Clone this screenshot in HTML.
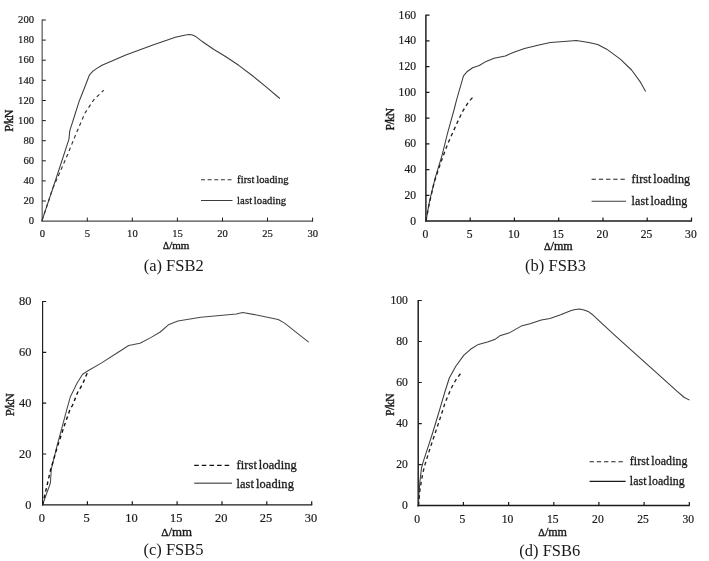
<!DOCTYPE html>
<html lang="en"><head><meta charset="utf-8"><title>Load-deflection curves</title>
<style>html,body{margin:0;padding:0;background:#fff}svg{display:block}text{font-family:'Liberation Serif', serif;fill:#1a1a1a;stroke:#1a1a1a;stroke-width:0.3px}.t text{stroke-width:0.2px}.cap{stroke:none}.b{stroke-width:0.38px}</style></head><body>
<svg width="709" height="561" viewBox="0 0 709 561">
<rect width="709" height="561" fill="#fff"/>
<g id="chart-a">
<line x1="42.2" y1="19.5" x2="42.2" y2="221.8" stroke="#787878" stroke-width="1.5"/>
<line x1="41.5" y1="221.2" x2="313.1" y2="221.2" stroke="#4a4a4a" stroke-width="1.3"/>
<path d="M42.2,201.0h3.6M42.2,180.9h3.6M42.2,160.8h3.6M42.2,140.7h3.6M42.2,120.6h3.6M42.2,100.5h3.6M42.2,80.3h3.6M42.2,60.2h3.6M42.2,40.1h3.6M42.2,20.0h3.6M87.3,221.2v-3.6M132.3,221.2v-3.6M177.4,221.2v-3.6M222.5,221.2v-3.6M267.5,221.2v-3.6M312.6,221.2v-3.6" fill="none" stroke="#1a1a1a" stroke-width="1.0"/>
<g class="t">
<text x="34.0" y="224.3" font-size="10.6" text-anchor="end">0</text>
<text x="34.0" y="204.2" font-size="10.6" text-anchor="end">20</text>
<text x="34.0" y="184.1" font-size="10.6" text-anchor="end">40</text>
<text x="34.0" y="164.0" font-size="10.6" text-anchor="end">60</text>
<text x="34.0" y="143.9" font-size="10.6" text-anchor="end">80</text>
<text x="34.0" y="123.8" font-size="10.6" text-anchor="end">100</text>
<text x="34.0" y="103.6" font-size="10.6" text-anchor="end">120</text>
<text x="34.0" y="83.5" font-size="10.6" text-anchor="end">140</text>
<text x="34.0" y="63.4" font-size="10.6" text-anchor="end">160</text>
<text x="34.0" y="43.3" font-size="10.6" text-anchor="end">180</text>
<text x="34.0" y="23.2" font-size="10.6" text-anchor="end">200</text>
<text x="42.3" y="236.8" font-size="10.6" text-anchor="middle">0</text>
<text x="87.4" y="236.8" font-size="10.6" text-anchor="middle">5</text>
<text x="132.4" y="236.8" font-size="10.6" text-anchor="middle">10</text>
<text x="177.5" y="236.8" font-size="10.6" text-anchor="middle">15</text>
<text x="222.6" y="236.8" font-size="10.6" text-anchor="middle">20</text>
<text x="267.6" y="236.8" font-size="10.6" text-anchor="middle">25</text>
<text x="312.7" y="236.8" font-size="10.6" text-anchor="middle">30</text>
</g>
<text class="b" x="176.2" y="248.9" font-size="11.02" text-anchor="middle"><tspan font-size="9.5">Δ</tspan>/mm</text>
<text class="b" transform="translate(12.6,120.7) rotate(-90)" font-size="12.0" text-anchor="middle">P<tspan dx="-0.84">/</tspan><tspan dx="-0.84">k</tspan><tspan dx="-0.70">N</tspan></text>
<text x="173.7" y="270.9" class="cap" font-size="16.5" text-anchor="middle" fill="#111">(a) FSB2</text>
<polyline points="42.0,220.6 55.6,180.0 68.9,139.4 69.8,130.6 74.5,116.0 79.2,101.2 85.0,86.5 89.3,75.2 93.0,71.2 96.8,68.4 102.0,65.3 125.8,55.1 152.9,45.0 175.4,37.3 181.0,35.9 185.5,35.0 189.5,34.6 192.5,35.0 195.2,36.2 198.5,38.6 202.6,41.8 213.9,49.5 225.1,56.3 238.7,65.3 252.2,75.5 265.8,86.7 279.8,98.5" fill="none" stroke="#3c3c3c" stroke-width="1.05" stroke-linejoin="round"/>
<polyline points="42.0,220.6 52.7,188.5 60.0,172.0 67.4,155.0 76.2,133.5 85.0,113.0 93.9,99.7 103.8,90.1" fill="none" stroke="#333" stroke-width="1.15" stroke-dasharray="3.6,3.2"/>
<line x1="201" y1="179.7" x2="231.5" y2="179.7" stroke="#333" stroke-width="1.05" stroke-dasharray="3.97,2.67"/>
<line x1="201" y1="200.5" x2="232.5" y2="200.5" stroke="#3c3c3c" stroke-width="1.05"/>
<text x="237" y="182.6" font-size="10.6" word-spacing="-1.3" letter-spacing="0.12">first loading</text>
<text x="237" y="203.8" font-size="10.6" word-spacing="-1.3" letter-spacing="0.12">last loading</text>
</g>
<g id="chart-b">
<line x1="425.9" y1="14.7" x2="425.9" y2="221.8" stroke="#1a1a1a" stroke-width="1.45"/>
<line x1="425.2" y1="221.0" x2="692.0" y2="221.0" stroke="#1a1a1a" stroke-width="1.5"/>
<path d="M425.9,195.3h3.6M425.9,169.6h3.6M425.9,143.8h3.6M425.9,118.1h3.6M425.9,92.4h3.6M425.9,66.6h3.6M425.9,40.9h3.6M425.9,15.2h3.6M470.2,221.0v-3.6M514.4,221.0v-3.6M558.7,221.0v-3.6M603.0,221.0v-3.6M647.2,221.0v-3.6M691.5,221.0v-3.6" fill="none" stroke="#1a1a1a" stroke-width="1.2"/>
<g class="t">
<text x="416.0" y="224.5" font-size="11.6" text-anchor="end">0</text>
<text x="416.0" y="198.8" font-size="11.6" text-anchor="end">20</text>
<text x="416.0" y="173.0" font-size="11.6" text-anchor="end">40</text>
<text x="416.0" y="147.3" font-size="11.6" text-anchor="end">60</text>
<text x="416.0" y="121.6" font-size="11.6" text-anchor="end">80</text>
<text x="416.0" y="95.9" font-size="11.6" text-anchor="end">100</text>
<text x="416.0" y="70.1" font-size="11.6" text-anchor="end">120</text>
<text x="416.0" y="44.4" font-size="11.6" text-anchor="end">140</text>
<text x="416.0" y="18.7" font-size="11.6" text-anchor="end">160</text>
<text x="425.3" y="237.5" font-size="11.6" text-anchor="middle">0</text>
<text x="469.6" y="237.5" font-size="11.6" text-anchor="middle">5</text>
<text x="513.8" y="237.5" font-size="11.6" text-anchor="middle">10</text>
<text x="558.1" y="237.5" font-size="11.6" text-anchor="middle">15</text>
<text x="602.4" y="237.5" font-size="11.6" text-anchor="middle">20</text>
<text x="646.6" y="237.5" font-size="11.6" text-anchor="middle">25</text>
<text x="690.9" y="237.5" font-size="11.6" text-anchor="middle">30</text>
</g>
<text class="b" x="558.3" y="250.3" font-size="12.06" text-anchor="middle"><tspan font-size="10.4">Δ</tspan>/mm</text>
<text class="b" transform="translate(394.4,119.3) rotate(-90)" font-size="11.8" text-anchor="middle">P<tspan dx="-0.60">/</tspan><tspan dx="-0.60">k</tspan><tspan dx="-0.50">N</tspan></text>
<text x="555.6" y="271.3" class="cap" font-size="16.5" text-anchor="middle" fill="#111">(b) FSB3</text>
<polyline points="426.0,220.8 429.7,200.3 435.3,177.7 442.1,155.1 447.7,132.6 454.0,110.0 456.7,99.3 463.5,75.8 466.9,71.8 472.6,67.7 479.3,65.5 486.1,61.4 494.0,58.2 505.3,56.0 513.2,52.4 524.5,48.5 539.0,44.9 550.3,42.4 563.9,41.5 576.3,40.6 588.7,42.4 597.7,44.5 606.7,49.2 620.3,59.1 631.6,70.0 640.6,82.4 645.6,91.4" fill="none" stroke="#3c3c3c" stroke-width="1.05" stroke-linejoin="round"/>
<polyline points="426.0,220.8 428.5,207.0 434.2,182.2 441.0,161.9 447.7,143.9 456.7,123.8 462.4,111.7 468.0,102.7 473.0,97.0" fill="none" stroke="#222" stroke-width="1.35" stroke-dasharray="3.6,3.2"/>
<line x1="591.6" y1="179.3" x2="624.8" y2="179.3" stroke="#222" stroke-width="1.05" stroke-dasharray="4.32,2.90"/>
<line x1="591.6" y1="201.3" x2="626" y2="201.3" stroke="#3c3c3c" stroke-width="1.05"/>
<text x="631.6" y="182.9" font-size="12.0" word-spacing="-1.3" letter-spacing="0.12">first loading</text>
<text x="631.6" y="204.6" font-size="12.0" word-spacing="-1.3" letter-spacing="0.12">last loading</text>
</g>
<g id="chart-c">
<line x1="42.6" y1="301.0" x2="42.6" y2="505.5" stroke="#1a1a1a" stroke-width="1.15"/>
<line x1="42.0" y1="504.9" x2="312.2" y2="504.9" stroke="#1a1a1a" stroke-width="1.3"/>
<path d="M42.6,454.0h3.6M42.6,403.2h3.6M42.6,352.4h3.6M42.6,301.5h3.6M87.4,504.9v-3.6M132.3,504.9v-3.6M177.1,504.9v-3.6M222.0,504.9v-3.6M266.8,504.9v-3.6M311.7,504.9v-3.6" fill="none" stroke="#1a1a1a" stroke-width="1.2"/>
<g class="t">
<text x="31.5" y="508.6" font-size="12.4" text-anchor="end">0</text>
<text x="31.5" y="457.8" font-size="12.4" text-anchor="end">20</text>
<text x="31.5" y="406.9" font-size="12.4" text-anchor="end">40</text>
<text x="31.5" y="356.1" font-size="12.4" text-anchor="end">60</text>
<text x="31.5" y="305.2" font-size="12.4" text-anchor="end">80</text>
<text x="41.8" y="522.0" font-size="12.4" text-anchor="middle">0</text>
<text x="86.6" y="522.0" font-size="12.4" text-anchor="middle">5</text>
<text x="131.5" y="522.0" font-size="12.4" text-anchor="middle">10</text>
<text x="176.3" y="522.0" font-size="12.4" text-anchor="middle">15</text>
<text x="221.2" y="522.0" font-size="12.4" text-anchor="middle">20</text>
<text x="266.0" y="522.0" font-size="12.4" text-anchor="middle">25</text>
<text x="310.9" y="522.0" font-size="12.4" text-anchor="middle">30</text>
</g>
<text class="b" x="176.6" y="535.5" font-size="12.90" text-anchor="middle"><tspan font-size="11.2">Δ</tspan>/mm</text>
<text class="b" transform="translate(14.4,404.7) rotate(-90)" font-size="12.6" text-anchor="middle">P<tspan dx="-1.02">/</tspan><tspan dx="-1.02">k</tspan><tspan dx="-0.85">N</tspan></text>
<text x="173.5" y="555.1" class="cap" font-size="16.5" text-anchor="middle" fill="#111">(c) FSB5</text>
<polyline points="42.6,504.9 50.4,483.0 51.3,469.0 57.2,445.2 62.9,424.2 66.9,409.2 70.4,396.7 77.1,383.0 82.6,374.2 88.0,370.8 101.6,362.9 117.4,352.7 128.7,345.5 140.0,343.2 151.2,337.4 160.2,332.0 169.0,324.4 177.9,321.0 200.8,317.2 236.3,313.9 242.7,312.4 256.6,315.0 278.2,319.5 284.6,323.1 297.2,333.2 308.7,342.1" fill="none" stroke="#484848" stroke-width="1.05" stroke-linejoin="round"/>
<polyline points="42.6,504.9 50.3,471.0 57.6,446.0 64.2,426.0 70.2,409.0 72.6,405.3 77.6,392.5 82.7,384.0 85.0,378.2 87.3,373.0" fill="none" stroke="#111" stroke-width="1.4" stroke-dasharray="3.6,3.2"/>
<line x1="194.2" y1="465.3" x2="229.2" y2="465.3" stroke="#111" stroke-width="1.3" stroke-dasharray="4.55,3.06"/>
<line x1="194.2" y1="483.2" x2="232" y2="483.2" stroke="#6e6e6e" stroke-width="1.4"/>
<text x="236.4" y="468.9" font-size="12.4" word-spacing="-1.3" letter-spacing="0.12">first loading</text>
<text x="236.4" y="487.9" font-size="12.4" word-spacing="-1.3" letter-spacing="0.12">last loading</text>
</g>
<g id="chart-d">
<line x1="418.2" y1="300.0" x2="418.2" y2="506.4" stroke="#1a1a1a" stroke-width="1.45"/>
<line x1="417.5" y1="505.6" x2="689.8" y2="505.6" stroke="#1a1a1a" stroke-width="1.5"/>
<path d="M418.2,464.6h3.6M418.2,423.6h3.6M418.2,382.5h3.6M418.2,341.5h3.6M418.2,300.5h3.6M463.4,505.6v-3.6M508.6,505.6v-3.6M553.8,505.6v-3.6M598.9,505.6v-3.6M644.1,505.6v-3.6M689.3,505.6v-3.6" fill="none" stroke="#1a1a1a" stroke-width="1.2"/>
<g class="t">
<text x="407.8" y="509.1" font-size="11.6" text-anchor="end">0</text>
<text x="407.8" y="468.1" font-size="11.6" text-anchor="end">20</text>
<text x="407.8" y="427.0" font-size="11.6" text-anchor="end">40</text>
<text x="407.8" y="386.0" font-size="11.6" text-anchor="end">60</text>
<text x="407.8" y="345.0" font-size="11.6" text-anchor="end">80</text>
<text x="407.8" y="304.0" font-size="11.6" text-anchor="end">100</text>
<text x="417.2" y="523.1" font-size="11.6" text-anchor="middle">0</text>
<text x="462.4" y="523.1" font-size="11.6" text-anchor="middle">5</text>
<text x="507.6" y="523.1" font-size="11.6" text-anchor="middle">10</text>
<text x="552.8" y="523.1" font-size="11.6" text-anchor="middle">15</text>
<text x="597.9" y="523.1" font-size="11.6" text-anchor="middle">20</text>
<text x="643.1" y="523.1" font-size="11.6" text-anchor="middle">25</text>
<text x="688.3" y="523.1" font-size="11.6" text-anchor="middle">30</text>
</g>
<text class="b" x="552.6" y="535.9" font-size="12.06" text-anchor="middle"><tspan font-size="10.4">Δ</tspan>/mm</text>
<text class="b" transform="translate(394.3,404.7) rotate(-90)" font-size="11.8" text-anchor="middle">P<tspan dx="-0.60">/</tspan><tspan dx="-0.60">k</tspan><tspan dx="-0.50">N</tspan></text>
<text x="549.8" y="555.6" class="cap" font-size="16.5" text-anchor="middle" fill="#111">(d) FSB6</text>
<polyline points="418.5,505.6 418.9,494.0 420.0,480.6 421.5,468.0 423.0,462.4 429.0,444.2 432.6,433.0 436.4,420.5 440.4,407.2 444.7,392.5 449.3,378.0 455.8,366.3 463.7,355.4 470.5,349.3 478.4,344.4 487.4,342.1 495.3,339.2 499.8,335.8 508.8,333.1 521.2,326.1 530.0,323.8 541.3,319.9 550.0,318.4 560.6,314.8 571.2,310.4 575.4,309.4 579.6,309.1 584.0,309.9 588.1,311.4 592.0,314.2 596.5,318.4 613.5,334.1 634.6,353.1 655.8,372.2 676.9,391.2 684.3,397.5 689.6,400.1" fill="none" stroke="#3c3c3c" stroke-width="1.05" stroke-linejoin="round"/>
<polyline points="418.5,505.6 420.0,489.1 422.6,474.1 424.7,465.6 430.0,448.5 435.4,432.5 441.7,413.5 444.9,403.2 450.3,390.3 453.5,383.9 456.5,378.9 462.3,371.3" fill="none" stroke="#222" stroke-width="1.35" stroke-dasharray="3.6,3.2"/>
<line x1="589.6" y1="461.7" x2="622.8" y2="461.7" stroke="#222" stroke-width="1.05" stroke-dasharray="4.32,2.90"/>
<line x1="589.6" y1="481.3" x2="625.6" y2="481.3" stroke="#1a1a1a" stroke-width="1.2"/>
<text x="629.8" y="464.9" font-size="11.85" word-spacing="-1.3" letter-spacing="0.12">first loading</text>
<text x="629.8" y="484.7" font-size="11.85" word-spacing="-1.3" letter-spacing="0.12">last loading</text>
</g>
</svg></body></html>
